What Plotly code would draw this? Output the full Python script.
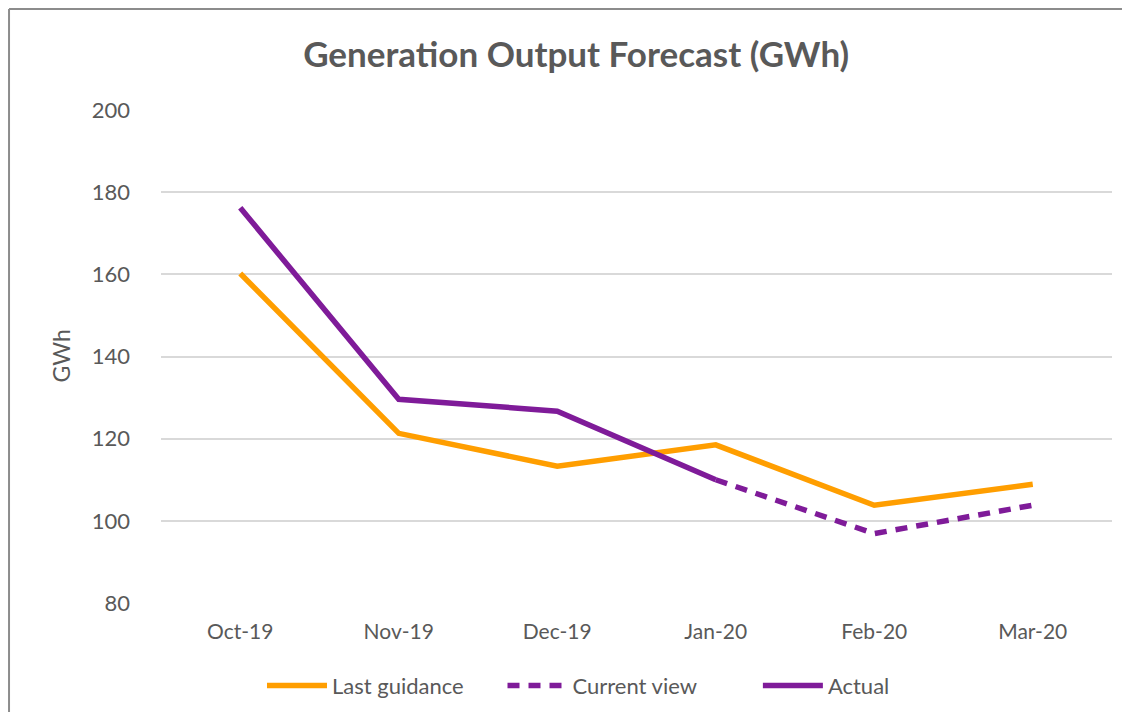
import plotly.graph_objects as go

# Data
months = ["Oct-19", "Nov-19", "Dec-19", "Jan-20", "Feb-20", "Mar-20"]
last_guidance = [160.2, 121.3, 113.3, 118.5, 103.8, 108.9]
current_view = [None, None, None, 110.0, 96.9, 103.8]
actual = [176.2, 129.6, 126.7, 110.0, None, None]
y_ticks = [80, 100, 120, 140, 160, 180, 200]

orange = "#FF9E00"
purple = "#7F1B99"
grey_text = "#595959"
font_family = "Lato, 'Open Sans', sans-serif"

fig = go.Figure()
fig.add_trace(go.Scatter(x=months, y=last_guidance, name="Last guidance      ", mode="lines",
                         line=dict(color=orange, width=5.5)))
fig.add_trace(go.Scatter(x=months, y=current_view, name="Current view          ", mode="lines",
                         line=dict(color=purple, width=5.5, dash="12px,9px")))
fig.add_trace(go.Scatter(x=months, y=actual, name="Actual", mode="lines",
                         line=dict(color=purple, width=5.5)))

# page has an 8px body margin; keep the figure inside the window so no scrollbars appear
fig.update_layout(
    width=1114, height=704,
    margin=dict(l=153, r=10, t=102, b=109, autoexpand=False),
    paper_bgcolor="white", plot_bgcolor="white",
    font=dict(family=font_family, color=grey_text, size=21),
    title=dict(text="<b>Generation Output Forecast (GWh)</b>", x=0.51, xanchor="center",
               y=0.9332, yanchor="middle", font=dict(size=35, color=grey_text)),
    legend=dict(orientation="h", x=0.439, xanchor="center", y=-0.168, yanchor="middle",
                font=dict(size=22, color=grey_text), itemwidth=60),
    hovermode=False,
    showlegend=True,
)

fig.update_xaxes(range=[-0.5, 5.5], showgrid=False, showline=False, zeroline=False,
                 ticklabelstandoff=14, tickfont=dict(size=21))
fig.update_yaxes(range=[80, 200], tickvals=y_ticks, showgrid=True, gridcolor="#D9D9D9",
                 gridwidth=1.5, zeroline=False, showline=False,
                 ticklabelstandoff=30, tickfont=dict(size=22))

# y-axis title
fig.add_annotation(text="GWh", xref="paper", yref="paper", x=-0.123, y=0.5,
                   textangle=-90, showarrow=False, font=dict(size=23, color=grey_text))

# outer chart border (only left and top edges are visible in the crop)
border = dict(color="#8C8C8C", width=2)
fig.add_shape(type="line", xref="paper", yref="paper", x0=-0.1598, y0=-0.3, x1=-0.1598, y1=1.205,
              line=border)
fig.add_shape(type="line", xref="paper", yref="paper", x0=-0.1598, y0=1.205, x1=1.0105, y1=1.205,
              line=border)

fig.write_html("out.html")
